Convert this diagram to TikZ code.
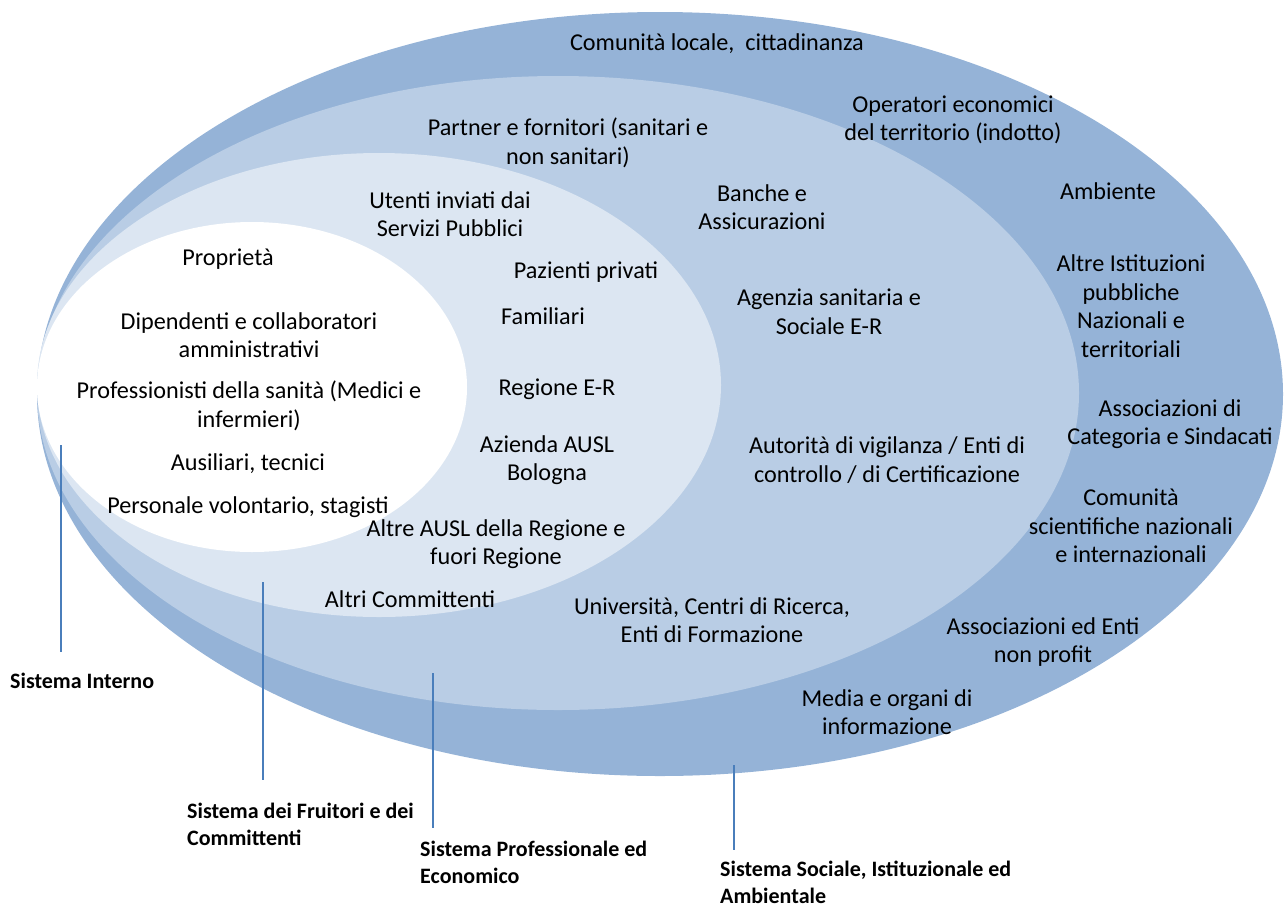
\documentclass[tikz,border=0pt]{standalone}
\usepackage{fontspec}
\setmainfont{Carlito}
\usetikzlibrary{positioning}

\definecolor{ringout}{HTML}{95B3D7}
\definecolor{ringmid}{HTML}{B9CDE5}
\definecolor{ringin}{HTML}{DCE6F2}
\definecolor{sysblue}{HTML}{4A7EBB}

\begin{document}
\begin{tikzpicture}[x=1pt,y=-1pt,
                stakeholder/.style={align=center, inner sep=0pt, font=\fontsize{24.2}{28.6}\selectfont},
                systemlabel/.style={align=left, inner sep=0pt, anchor=base west, font=\fontsize{22}{26.5}\selectfont\bfseries},
                sysline/.style={draw=sysblue, line width=2pt},
                ]
                \useasboundingbox (0,0) rectangle (1284,908);

                % nested rings, outermost first
                \fill[ringout] (660,394) ellipse [x radius=623, y radius=382];
                \fill[ringmid] (558,393) ellipse [x radius=521, y radius=317];
                \fill[ringin]  (379,385) ellipse [x radius=342, y radius=232];
                \fill[white]   (252,387) ellipse [x radius=215, y radius=165];

                % sistema interno
                \node[stakeholder] (Prop) at (228,259) {Proprietà};
                \node[stakeholder] (Dip) at (249,335) {Dipendenti e collaboratori\\amministrativi};
                \node[stakeholder] (Prof) at (249,406) {Professionisti della sanità (Medici e\\infermieri)};
                \node[stakeholder] (Aus) at (248,464) {Ausiliari, tecnici};
                \node[stakeholder] (Vol) at (248,507) {Personale volontario, stagisti};

                % fruitori e committenti
                \node[stakeholder] (Ut) at (450,214) {Utenti inviati dai\\Servizi Pubblici};
                \node[stakeholder] (Paz) at (586,272) {Pazienti privati};
                \node[stakeholder] (Fam) at (543,316) {Familiari};
                \node[stakeholder] (Reg) at (557,389) {Regione E-R};
                \node[stakeholder] (Ausl) at (547,460) {Azienda AUSL\\Bologna};
                \node[stakeholder] (AltAusl) at (496,544) {Altre AUSL della Regione e\\fuori Regione};
                \node[stakeholder] (Comm) at (410,599) {Altri Committenti};

                % professionale ed economico
                \node[stakeholder] (Part) at (568,143) {Partner e fornitori (sanitari e\\non sanitari)};
                \node[stakeholder] (Banc) at (762,207) {Banche e\\Assicurazioni};
                \node[stakeholder] (Agen) at (829,312) {Agenzia sanitaria e\\Sociale E-R};
                \node[stakeholder] (Vig) at (887,460) {Autorità di vigilanza / Enti di\\controllo / di Certificazione};
                \node[stakeholder] (Univ) at (712,620) {Università, Centri di Ricerca,\\Enti di Formazione};

                % sociale, istituzionale ed ambientale
                \node[stakeholder] (Loc) at (717,44) {Comunità locale,\ \ cittadinanza};
                \node[stakeholder] (Oper) at (953,120) {Operatori economici\\del territorio (indotto)};
                \node[stakeholder] (Amb) at (1108,191) {Ambiente};
                \node[stakeholder] (Ist) at (1131,306) {Altre Istituzioni\\pubbliche\\Nazionali e\\territoriali};
                \node[stakeholder] (Sind) at (1170,424) {Associazioni di\\Categoria e Sindacati};
                \node[stakeholder] (Sci) at (1131,526) {Comunità\\scientifiche nazionali\\e internazionali};
                \node[stakeholder] (NonProf) at (1043,642) {Associazioni ed Enti\\non profit};
                \node[stakeholder] (Media) at (887,712) {Media e organi di\\informazione};

                % system names (anchored on their last line) and their pointers
                \node[systemlabel] (SInt) at (10,688) {Sistema Interno};
                \node[systemlabel] (SFru) at (187,845) {Sistema dei Fruitori e dei\\Committenti};
                \node[systemlabel] (SPro) at (420,883) {Sistema Professionale ed\\Economico};
                \node[systemlabel] (SSoc) at (720,903) {Sistema Sociale, Istituzionale ed\\Ambientale};

                \coordinate (tInt) at (61,445);
                \coordinate (bInt) at (61,652);
                \coordinate (tFru) at (263,582);
                \coordinate (bFru) at (263,780);
                \coordinate (tPro) at (433,673);
                \coordinate (bPro) at (433,828);
                \coordinate (tSoc) at (734,765);
                \coordinate (bSoc) at (734,850);

                \draw[sysline] (tInt) -- (bInt);
                \draw[sysline] (tFru) -- (bFru);
                \draw[sysline] (tPro) -- (bPro);
                \draw[sysline] (tSoc) -- (bSoc);
            \end{tikzpicture}
\end{document}
